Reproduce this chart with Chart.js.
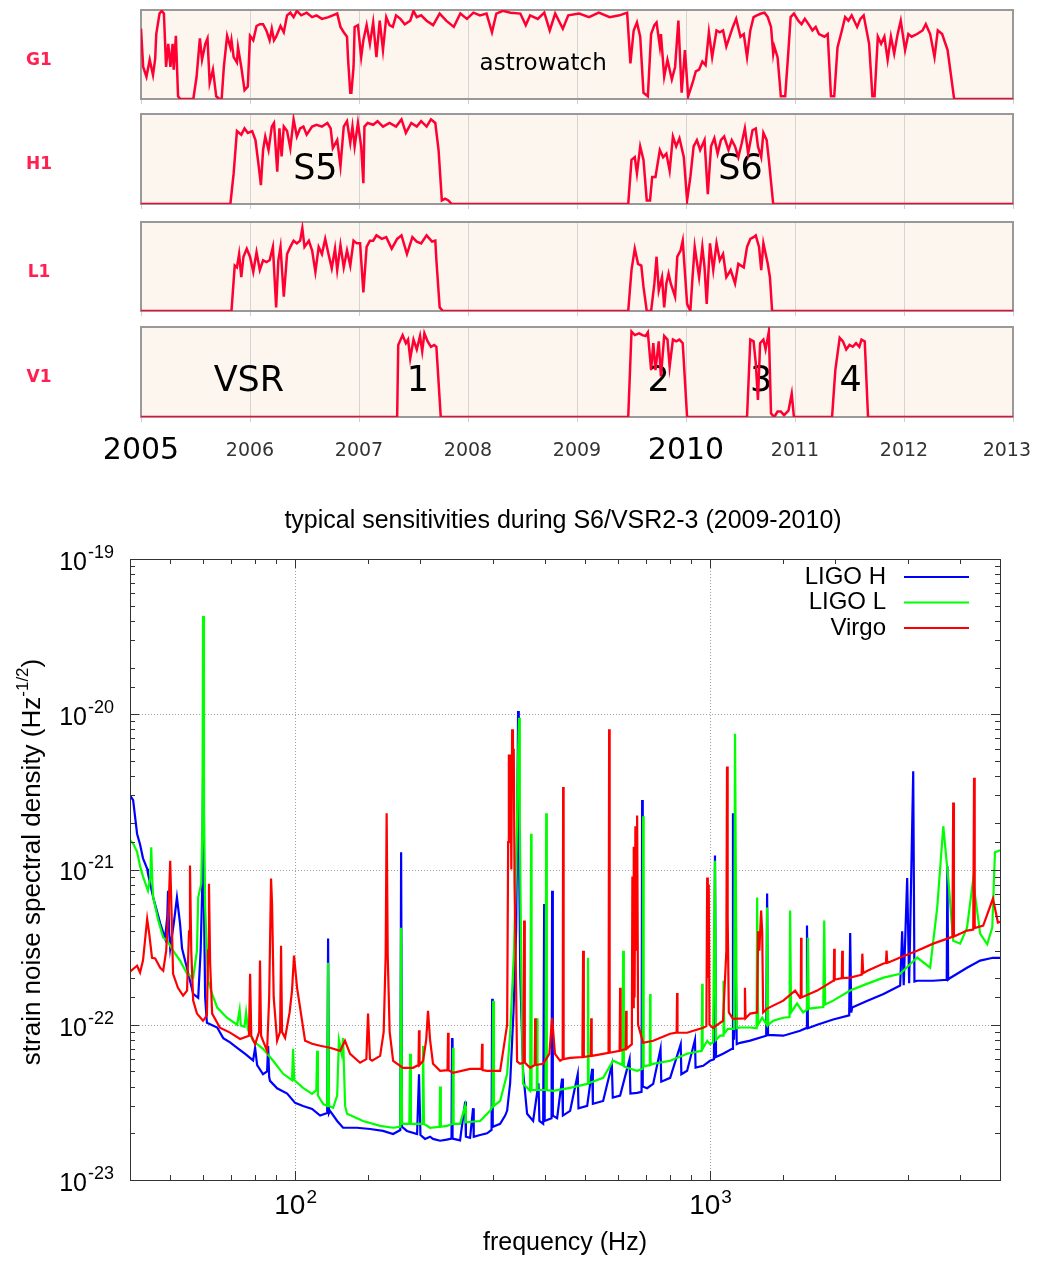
<!DOCTYPE html>
<html>
<head>
<meta charset="utf-8">
<script src="https://cdn.jsdelivr.net/npm/chart.js@4.4.0/dist/chart.umd.min.js"></script>
<style>
  body { margin: 0; background: #fff; width: 1037px; height: 1268px; position: relative; overflow: hidden; }
  canvas { position: absolute; left: 0; }
</style>
</head>
<body>
<canvas id="g1" width="1037" height="107" style="top:0px"></canvas>
<canvas id="h1" width="1037" height="108" style="top:104px"></canvas>
<canvas id="l1" width="1037" height="107" style="top:212px"></canvas>
<canvas id="v1" width="1037" height="160" style="top:317px"></canvas>
<canvas id="sens" width="1037" height="778" style="top:490px"></canvas>
<script>
// ---- top: duty factor per detector, [year, fraction] ----
const g1Duty = [
  [2005.00,0.79],[2005.02,0.36],[2005.05,0.25],[2005.08,0.44],[2005.11,0.27],[2005.13,0.45],[2005.14,0.73],
  [2005.17,0.96],[2005.19,0.99],[2005.21,0.96],[2005.23,0.36],[2005.25,0.62],[2005.27,0.36],[2005.29,0.62],
  [2005.30,0.33],[2005.32,0.71],[2005.34,0.03],[2005.36,0],[2005.48,0],[2005.51,0.25],[2005.54,0.68],
  [2005.56,0.44],[2005.59,0.62],[2005.61,0.68],[2005.63,0.18],[2005.66,0.33],[2005.69,0.03],[2005.72,0],
  [2005.74,0],[2005.76,0.36],[2005.79,0.71],[2005.82,0.58],[2005.83,0.66],[2005.85,0.47],[2005.88,0.41],
  [2005.89,0.58],[2005.92,0.36],[2005.95,0.10],[2005.98,0.14],[2006.00,0.71],[2006.03,0.66],[2006.06,0.82],
  [2006.09,0.84],[2006.12,0.84],[2006.15,0.77],[2006.18,0.66],[2006.20,0.79],[2006.22,0.66],[2006.24,0.70],
  [2006.28,0.82],[2006.31,0.75],[2006.34,0.94],[2006.37,0.97],[2006.40,0.92],[2006.43,0.99],[2006.47,0.94],
  [2006.52,0.97],[2006.57,0.92],[2006.61,0.94],[2006.66,0.90],[2006.72,0.92],[2006.76,0.94],[2006.80,0.96],
  [2006.83,0.81],[2006.86,0.75],[2006.89,0.70],[2006.90,0.44],[2006.92,0.07],[2006.93,0.07],[2006.95,0.36],
  [2006.96,0.81],[2006.99,0.83],[2007.02,0.47],[2007.04,0.66],[2007.07,0.83],[2007.10,0.62],[2007.13,0.86],
  [2007.16,0.47],[2007.19,0.88],[2007.22,0.55],[2007.25,0.92],[2007.28,0.83],[2007.31,0.81],[2007.34,0.94],
  [2007.38,0.90],[2007.42,0.84],[2007.47,0.88],[2007.50,0.99],[2007.53,0.92],[2007.57,0.94],[2007.62,0.88],
  [2007.68,0.83],[2007.74,0.96],[2007.80,0.88],[2007.87,0.81],[2007.93,0.96],[2007.99,0.90],[2008.05,0.97],
  [2008.11,0.94],[2008.17,0.96],[2008.22,0.75],[2008.26,0.96],[2008.32,0.99],[2008.39,0.97],[2008.48,0.96],
  [2008.53,0.83],[2008.57,0.94],[2008.64,0.90],[2008.70,0.97],[2008.75,0.77],[2008.80,0.96],[2008.87,0.79],
  [2008.92,0.94],[2009.02,0.96],[2009.11,0.92],[2009.20,0.97],[2009.30,0.92],[2009.39,0.94],[2009.46,0.97],
  [2009.49,0.40],[2009.52,0.77],[2009.55,0.86],[2009.58,0.70],[2009.61,0.07],[2009.65,0.03],[2009.68,0.73],
  [2009.71,0.83],[2009.73,0.86],[2009.76,0.59],[2009.77,0.73],[2009.80,0.25],[2009.83,0.44],[2009.87,0.22],
  [2009.90,0.36],[2009.93,0.88],[2009.96,0.07],[2009.99,0.55],[2010.02,0.03],[2010.06,0.18],[2010.09,0.31],
  [2010.12,0.33],[2010.15,0.42],[2010.18,0.38],[2010.21,0.75],[2010.24,0.47],[2010.28,0.77],[2010.31,0.75],
  [2010.34,0.77],[2010.37,0.59],[2010.40,0.70],[2010.43,0.81],[2010.46,0.90],[2010.50,0.70],[2010.53,0.73],
  [2010.56,0.47],[2010.59,0.77],[2010.62,0.92],[2010.65,0.94],[2010.69,0.96],[2010.72,0.97],[2010.75,0.92],
  [2010.78,0.81],[2010.80,0.51],[2010.81,0.59],[2010.84,0.47],[2010.86,0.18],[2010.87,0.03],[2010.91,0.03],
  [2010.94,0.55],[2010.96,0.92],[2010.99,0.96],[2011.03,0.88],[2011.06,0.84],[2011.09,0.90],[2011.13,0.83],
  [2011.16,0.77],[2011.19,0.81],[2011.22,0.73],[2011.27,0.70],[2011.30,0.73],[2011.33,0.03],[2011.36,0.03],
  [2011.39,0.58],[2011.43,0.77],[2011.46,0.92],[2011.49,0.88],[2011.52,0.94],[2011.57,0.81],[2011.60,0.90],
  [2011.63,0.94],[2011.68,0.62],[2011.71,0.03],[2011.73,0.03],[2011.76,0.70],[2011.79,0.62],[2011.82,0.70],
  [2011.85,0.44],[2011.88,0.70],[2011.91,0.51],[2011.94,0.72],[2011.97,0.88],[2012.01,0.55],[2012.04,0.73],
  [2012.07,0.70],[2012.12,0.73],[2012.17,0.77],[2012.20,0.84],[2012.24,0.73],[2012.28,0.47],[2012.31,0.77],
  [2012.35,0.73],[2012.40,0.55],[2012.46,0],[2013.00,0]
];
const h1Duty = [
  [2005.00,0],[2005.82,0],[2005.85,0.34],[2005.88,0.81],[2005.92,0.77],[2005.95,0.84],[2005.98,0.79],
  [2006.02,0.81],[2006.05,0.71],[2006.08,0.42],[2006.10,0.21],[2006.12,0.60],[2006.14,0.75],[2006.17,0.60],
  [2006.20,0.86],[2006.22,0.90],[2006.25,0.36],[2006.27,0.84],[2006.29,0.53],[2006.31,0.86],[2006.34,0.81],
  [2006.37,0.62],[2006.40,0.94],[2006.43,0.75],[2006.46,0.84],[2006.49,0.86],[2006.52,0.77],[2006.57,0.86],
  [2006.61,0.88],[2006.66,0.86],[2006.71,0.90],[2006.74,0.84],[2006.76,0.62],[2006.80,0.71],[2006.83,0.42],
  [2006.86,0.86],[2006.89,0.92],[2006.92,0.68],[2006.94,0.86],[2006.96,0.64],[2006.99,0.90],[2007.02,0.64],
  [2007.04,0.23],[2007.05,0.86],[2007.08,0.90],[2007.13,0.88],[2007.17,0.92],[2007.22,0.86],[2007.28,0.90],
  [2007.34,0.86],[2007.39,0.94],[2007.43,0.79],[2007.48,0.90],[2007.53,0.86],[2007.57,0.92],[2007.62,0.86],
  [2007.66,0.94],[2007.70,0.90],[2007.73,0.60],[2007.76,0.04],[2007.79,0.06],[2007.82,0.04],[2007.85,0],
  [2009.47,0],[2009.50,0.49],[2009.53,0.52],[2009.55,0.34],[2009.58,0.64],[2009.61,0.49],[2009.64,0.04],
  [2009.67,0.04],[2009.69,0.30],[2009.72,0.30],[2009.76,0.60],[2009.79,0.52],[2009.82,0.56],[2009.85,0.37],
  [2009.88,0.75],[2009.91,0.64],[2009.94,0.73],[2009.98,0.52],[2010.01,0.04],[2010.04,0.30],[2010.07,0.64],
  [2010.10,0.71],[2010.13,0.60],[2010.17,0.71],[2010.20,0.11],[2010.23,0.64],[2010.26,0.73],[2010.29,0.56],
  [2010.32,0.71],[2010.35,0.75],[2010.39,0.60],[2010.42,0.71],[2010.45,0.64],[2010.48,0.52],[2010.51,0.67],
  [2010.54,0.84],[2010.57,0.56],[2010.61,0.82],[2010.64,0.84],[2010.66,0.64],[2010.69,0.52],[2010.71,0.79],
  [2010.74,0.71],[2010.76,0.49],[2010.80,0],[2013.00,0]
];
const l1Duty = [
  [2005.00,0],[2005.83,0],[2005.86,0.51],[2005.88,0.49],[2005.90,0.64],[2005.92,0.38],[2005.94,0.61],
  [2005.97,0.70],[2006.00,0.61],[2006.03,0.44],[2006.06,0.66],[2006.09,0.46],[2006.12,0.57],[2006.15,0.55],
  [2006.18,0.57],[2006.21,0.72],[2006.24,0.04],[2006.26,0.57],[2006.28,0.72],[2006.31,0.16],[2006.34,0.64],
  [2006.37,0.72],[2006.40,0.79],[2006.43,0.76],[2006.46,0.79],[2006.48,0.93],[2006.50,0.72],[2006.54,0.79],
  [2006.57,0.68],[2006.60,0.44],[2006.63,0.72],[2006.66,0.64],[2006.69,0.81],[2006.72,0.64],[2006.75,0.48],
  [2006.78,0.70],[2006.80,0.46],[2006.83,0.74],[2006.86,0.49],[2006.89,0.68],[2006.92,0.51],[2006.95,0.79],
  [2006.98,0.76],[2007.01,0.76],[2007.04,0.21],[2007.07,0.72],[2007.10,0.79],[2007.13,0.79],[2007.16,0.85],
  [2007.21,0.81],[2007.25,0.83],[2007.30,0.70],[2007.35,0.81],[2007.39,0.85],[2007.44,0.64],[2007.49,0.83],
  [2007.53,0.78],[2007.57,0.76],[2007.62,0.85],[2007.67,0.78],[2007.70,0.79],[2007.71,0.57],[2007.74,0.04],
  [2007.77,0],[2009.47,0],[2009.50,0.46],[2009.53,0.70],[2009.56,0.53],[2009.59,0.51],[2009.61,0.27],
  [2009.64,0],[2009.68,0],[2009.71,0.31],[2009.73,0.61],[2009.75,0.23],[2009.78,0.38],[2009.80,0.04],
  [2009.82,0.31],[2009.84,0.42],[2009.86,0.31],[2009.90,0.16],[2009.92,0.61],[2009.95,0.68],[2009.97,0.79],
  [2010.01,0.08],[2010.04,0],[2010.06,0.38],[2010.08,0.72],[2010.12,0.38],[2010.15,0.72],[2010.17,0.49],
  [2010.19,0.08],[2010.22,0.76],[2010.25,0.46],[2010.28,0.76],[2010.31,0.57],[2010.34,0.64],[2010.37,0.38],
  [2010.41,0.46],[2010.45,0.31],[2010.48,0.53],[2010.53,0.49],[2010.56,0.72],[2010.59,0.81],[2010.62,0.83],
  [2010.64,0.85],[2010.67,0.72],[2010.69,0.46],[2010.71,0.76],[2010.75,0.53],[2010.77,0.38],[2010.79,0],
  [2013.00,0]
];
const v1Duty = [
  [2005.00,0],[2007.35,0],[2007.36,0.80],[2007.40,0.91],[2007.43,0.82],[2007.45,0.86],[2007.47,0.65],
  [2007.50,0.86],[2007.53,0.75],[2007.56,0.90],[2007.58,0.73],[2007.60,0.93],[2007.63,0.84],[2007.66,0.78],
  [2007.69,0.80],[2007.71,0.78],[2007.75,0],[2009.47,0],[2009.50,0.95],[2009.53,0.91],[2009.57,0.93],
  [2009.60,0.91],[2009.63,0.90],[2009.65,0.94],[2009.68,0.52],[2009.70,0.82],[2009.72,0.52],[2009.75,0.84],
  [2009.77,0.45],[2009.80,0.90],[2009.83,0.86],[2009.85,0.56],[2009.88,0.86],[2009.91,0.84],[2009.94,0.86],
  [2009.97,0.82],[2010.01,0],[2010.56,0],[2010.59,0.86],[2010.62,0.84],[2010.64,0.60],[2010.66,0.19],
  [2010.68,0.82],[2010.71,0.86],[2010.73,0.75],[2010.76,0.95],[2010.78,0.04],[2010.81,0],[2010.84,0.06],
  [2010.87,0.06],[2010.90,0.02],[2010.94,0.07],[2010.97,0.26],[2010.99,0],[2011.34,0],[2011.37,0.52],
  [2011.41,0.88],[2011.44,0.84],[2011.47,0.75],[2011.50,0.80],[2011.53,0.78],[2011.56,0.82],[2011.59,0.78],
  [2011.61,0.86],[2011.64,0.84],[2011.67,0],[2013.00,0]
];
const bigYears = [2005, 2010];

// ---- bottom: amplitude spectral density, [frequency Hz, strain/sqrt(Hz)] ----
const ligoH = [
  [40,3.0e-21],[40.7,2.8e-21],[41.6,1.7e-21],[42.3,1.45e-21],[43.0,1.18e-21],[44.0,1.01e-21],[44.2,9.4e-22],
  [45.5,6.6e-22],[47.3,4.5e-22],[48.6,3.6e-22],[49.2,5.0e-22],[49.4,7.3e-22],[49.7,4.0e-22],[50.0,3.1e-22],
  [51.0,4.5e-22],[51.9,6.6e-22],[52.8,4.5e-22],[53.4,3.1e-22],[54.9,2.3e-22],[56.8,1.58e-22],[58.4,1.49e-22],
  [59.2,3.0e-22],[59.7,7.3e-22],[60.0,3.9e-21],[60.3,6.0e-22],[60.7,1.5e-22],[61.3,1.03e-22],[64.9,9.6e-23],
  [67.1,8.2e-23],[69.7,7.7e-23],[72.5,7.1e-23],[75.8,6.5e-23],[79.2,5.9e-23],[80.1,7.1e-23],[81.0,5.5e-23],
  [83.7,4.8e-23],[85.6,5.0e-23],[86.1,7.3e-23],[86.6,4.6e-23],[87.0,4.35e-23],[90.5,3.9e-23],[95.7,3.6e-23],
  [100,3.14e-23],[104.5,3.0e-23],[109.9,2.87e-23],[114.9,2.6e-23],[119.5,2.7e-23],[120.1,3.6e-22],[120.7,2.7e-23],
  [121.4,2.79e-23],[126.3,2.4e-23],[130.5,2.17e-23],[141,2.17e-23],[151.6,2.13e-23],[162.9,2.07e-23],
  [172.3,1.98e-23],[179.3,2.1e-23],[180.1,1.29e-21],[181,2.2e-23],[186,2.07e-23],[196.8,1.98e-23],
  [198.9,4.8e-23],[200.5,1.95e-23],[205.7,1.84e-23],[211.5,1.9e-23],[215,1.84e-23],[223.6,1.79e-23],
  [232,1.82e-23],[238.2,1.85e-23],[238.9,8.2e-23],[239.6,1.85e-23],[249.8,1.8e-23],[257,3.2e-23],[258,1.9e-23],
  [264.1,1.87e-23],[268.5,2.9e-23],[269.5,1.9e-23],[279.2,1.95e-23],[290.2,2.0e-23],[297.5,2.1e-23],
  [298.5,1.47e-22],[299.5,2.2e-23],[312,2.3e-23],[320.8,2.6e-23],[324.4,2.8e-23],[329.8,4.2e-23],[336,1.2e-22],
  [341,4.0e-22],[343.5,3.0e-21],[344.7,1.05e-20],[346,2.0e-21],[349,2.0e-22],[354.4,5.0e-23],[362.4,2.67e-23],
  [374.7,2.4e-23],[386,4.2e-23],[388,2.4e-23],[396.2,2.3e-23],[397,2.3e-23],[398.4,6.0e-22],[399.5,2.4e-23],
  [415,2.5e-23],[416.4,7.3e-22],[418,2.6e-23],[428.1,2.5e-23],[440,4.5e-23],[442,2.6e-23],[460.1,2.79e-23],
  [480,4.8e-23],[482,2.9e-23],[505.8,3.0e-23],[520,5.2e-23],[522,3.1e-23],[552.6,3.23e-23],[580,5.5e-23],
  [583,3.4e-23],[607.3,3.5e-23],[640,6.0e-23],[643,3.6e-23],[667.4,3.64e-23],[684,3.7e-23],[686.2,2.8e-21],
  [688.5,4.0e-23],[705.5,3.9e-23],[729.5,4.16e-23],[760,7.0e-23],[763,4.3e-23],[801.6,4.55e-23],[850,7.5e-23],
  [853,4.8e-23],[880.7,5.05e-23],[920,8.0e-23],[923,5.3e-23],[962.9,5.44e-23],[1000,5.86e-23],[1022,6.0e-23],
  [1028,1.23e-21],[1034,6.2e-23],[1075,6.5e-23],[1130,7.0e-23],[1136,2.3e-21],[1142,8.0e-23],[1155,1.9e-22],
  [1160,7.5e-23],[1182,7.65e-23],[1250,7.9e-23],[1366,8.5e-23],[1373,7.0e-22],[1380,8.6e-23],[1502,8.5e-23],
  [1649,9.15e-23],[1704,9.5e-23],[1713,4.35e-22],[1722,9.5e-23],[1813,1.0e-22],[1981,1.08e-22],[2165,1.15e-22],
  [2177,3.9e-22],[2190,1.2e-22],[2201,1.29e-22],[2396,1.43e-22],[2620,1.58e-22],[2873,1.79e-22],[2905,4.0e-22],
  [2930,1.8e-22],[2987,8.8e-22],[3020,1.85e-22],[3089,4.3e-21],[3110,1.9e-22],[3157,1.92e-22],[3451,1.92e-22],
  [3720,1.95e-22],[3734,1.05e-21],[3750,1.95e-22],[3792,2.0e-22],[4164,2.33e-22],[4479,2.59e-22],
  [4808,2.7e-22],[5000,2.7e-22]
];
const ligoL = [
  [40,1.54e-21],[40.7,1.47e-21],[41.6,1.3e-21],[42.3,1.05e-21],[43.0,9.0e-22],[44.2,7.3e-22],[44.8,9.0e-22],
  [45.0,1.39e-21],[45.3,8.0e-22],[45.5,6.6e-22],[46.8,4.7e-22],[48.1,3.64e-22],[49.2,3.48e-22],[50.8,3.0e-22],
  [52.8,2.59e-22],[54.9,2.13e-22],[56.8,2.01e-22],[58.0,3.0e-22],[58.4,6.6e-22],[59.4,8.1e-22],[59.8,2.0e-21],
  [60.0,4.3e-20],[60.3,2.5e-21],[60.7,5.7e-22],[61.7,1.92e-22],[63.1,1.58e-22],[64.9,1.29e-22],[68.5,1.11e-22],
  [72.5,1.0e-22],[73.5,1.25e-22],[74.0,9.9e-23],[75.5,9.7e-23],[76.2,1.2e-22],[77.0,9.3e-23],[79.2,7.88e-23],
  [83.7,7.0e-23],[88.5,5.86e-23],[93.6,4.83e-23],[98.3,4.4e-23],[98.9,7.0e-23],[99.5,4.4e-23],[104.5,3.92e-23],
  [109.9,3.59e-23],[112.5,3.8e-23],[113,6.8e-23],[113.5,3.5e-23],[116.8,3.09e-23],[119.5,3.0e-23],
  [120.1,2.51e-22],[120.7,3.0e-23],[123.5,2.92e-23],[126.3,3.5e-23],[127.5,8.0e-23],[129.5,6.5e-23],
  [130.5,8.2e-23],[132,3.0e-23],[133.4,2.67e-23],[145.8,2.4e-23],[160.3,2.23e-23],[172.3,2.17e-23],
  [179.3,2.2e-23],[180.1,4.22e-22],[181,2.3e-23],[188.5,2.3e-23],[189.3,6.5e-23],[190.2,2.3e-23],
  [196.8,2.3e-23],[203,2.3e-23],[203.5,7.3e-23],[204.5,2.3e-23],[211.5,2.17e-23],[223,2.2e-23],[223.6,4.0e-23],
  [224.5,2.2e-23],[232.4,2.23e-23],[239.5,2.3e-23],[240.3,7.1e-23],[241,2.3e-23],[249.8,2.3e-23],[257,3.0e-23],
  [258,2.35e-23],[279.2,2.4e-23],[295.1,2.79e-23],[299,3.0e-23],[300.2,1.43e-22],[301.5,3.0e-23],[312,3.23e-23],
  [324.4,4.83e-23],[329.8,8.75e-23],[337,3.0e-22],[342,1.5e-21],[345,6.0e-21],[346.7,9.5e-21],[348,2.0e-21],
  [351,2.0e-22],[354.4,4.16e-23],[368.5,3.75e-23],[369.8,3.75e-23],[370.6,1.7e-21],[371.5,3.8e-23],
  [382.3,3.8e-23],[383.2,1.1e-22],[384,3.8e-23],[401.5,3.8e-23],[402.9,2.3e-21],[404.3,3.8e-23],
  [418.7,3.75e-23],[460.1,3.92e-23],[505.8,4.16e-23],[508,2.7e-22],[510,4.2e-23],[552.6,4.55e-23],
  [584.1,5.86e-23],[615,5.5e-23],[617.6,3.0e-22],[620,5.4e-23],[631.3,5.28e-23],[667.4,5.05e-23],[688,5.2e-23],
  [690,2.2e-21],[692,5.4e-23],[716,5.5e-23],[717.4,1.58e-22],[719,5.5e-23],[729.5,5.6e-23],[801.6,5.86e-23],
  [880.7,6.5e-23],[955,6.8e-23],[957.6,1.84e-22],[960,7.0e-23],[984.5,7.88e-23],[1000,7.5e-23],[1017,7.7e-23],
  [1028,1.14e-21],[1034,8.0e-23],[1058,8.5e-23],[1075,8.5e-23],[1078,1.92e-22],[1083,8.8e-23],[1105,9.4e-23],
  [1143,9.4e-23],[1149,7.5e-21],[1160,9.5e-23],[1182,9.6e-23],[1250,9.6e-23],[1295,9.5e-23],[1299,6.6e-22],
  [1306,1.0e-22],[1336,1.11e-22],[1370,1.0e-22],[1373,5.7e-22],[1381,1.0e-22],[1420,1.06e-22],[1502,1.11e-22],
  [1555,1.12e-22],[1560,5.44e-22],[1568,1.2e-22],[1621,1.37e-22],[1676,1.2e-22],[1713,1.25e-22],[1722,3.64e-22],
  [1730,1.27e-22],[1813,1.29e-22],[1875,1.3e-22],[1885,4.69e-22],[1895,1.35e-22],[1981,1.43e-22],[2177,1.66e-22],
  [2396,1.84e-22],[2620,2.01e-22],[2873,2.13e-22],[3157,2.71e-22],[3393,2.33e-22],[3529,5.69e-22],
  [3650,1.9e-21],[3755,8.5e-22],[3856,3.48e-22],[4008,3.33e-22],[4164,4.22e-22],[4305,8.5e-22],[4479,3.86e-22],
  [4657,3.3e-22],[4790,4.22e-22],[4862,1.29e-21],[5000,1.33e-21]
];
const virgo = [
  [40,2.2e-22],[41.6,2.4e-22],[42.3,2.17e-22],[43.0,2.6e-22],[44.0,4.8e-22],[44.5,3.86e-22],[45.2,2.7e-22],
  [46.0,2.67e-22],[47.3,2.33e-22],[48.1,2.23e-22],[48.9,3.0e-22],[49.6,6.0e-22],[50.0,1.14e-21],[50.4,5.0e-22],
  [50.8,2.13e-22],[52.2,1.73e-22],[53.7,1.54e-22],[54.9,1.66e-22],[55.5,4.0e-22],[55.8,1.06e-21],[56.2,3.0e-22],
  [56.8,1.43e-22],[58.0,1.18e-22],[60.0,1.06e-22],[61.3,1.15e-22],[61.7,3.0e-22],[62.0,8.1e-22],[62.4,2.5e-22],
  [63.1,1.18e-22],[65.9,9.56e-23],[69.7,8.9e-23],[73.7,8.1e-23],[77.4,8.5e-23],[77.9,2.13e-22],[78.4,8.5e-23],
  [80.1,7.5e-23],[81.9,9.0e-23],[82.3,2.59e-22],[82.8,8.5e-23],[83.7,7.88e-23],[85.6,6.79e-23],[86.6,1.5e-22],
  [87.5,8.75e-22],[88.0,6.0e-22],[88.8,1.5e-22],[90.5,7.88e-23],[92.0,9.0e-23],[92.5,3.23e-22],[93.0,9.0e-23],
  [94.6,8.24e-23],[97,1.2e-22],[98.3,1.66e-22],[99.4,2.79e-22],[101.1,1.73e-22],[102.8,1.29e-22],
  [105.7,7.88e-23],[109.9,7.54e-23],[114.9,7.32e-23],[121.4,7.11e-23],[128.4,6.79e-23],[131.9,7.88e-23],
  [135.7,6.5e-23],[143.4,5.69e-23],[148.5,6.0e-23],[149.9,1.18e-22],[151.5,6.0e-23],[153.3,5.86e-23],
  [160.3,6.3e-23],[163.5,9.0e-23],[165.3,2.8e-22],[166.2,2.3e-21],[167.2,2.8e-22],[169,9.0e-23],[172.3,5.86e-23],
  [182,5.28e-23],[192.4,5.28e-23],[198.3,5.5e-23],[198.9,9.2e-23],[199.5,5.5e-23],[203.5,5.86e-23],[207,8.0e-23],
  [209.1,1.23e-22],[211.5,8.0e-23],[215,5.6e-23],[223.6,5.05e-23],[233,5.1e-23],[233.7,8.88e-23],[234.4,5.1e-23],
  [240.3,4.9e-23],[264.1,5.2e-23],[281.5,5.2e-23],[282.3,7.54e-23],[283,5.1e-23],[290.2,5.05e-23],[312,5.05e-23],
  [320.8,8.24e-23],[324.4,1.0e-22],[326.2,1.5e-21],[327.5,5.5e-21],[329,2.0e-21],[330.5,5.5e-21],[332,1.0e-21],
  [333.5,8.0e-21],[335,4.0e-21],[336.5,6.0e-21],[338,8.0e-22],[340,3.0e-22],[342.8,5.8e-23],[348.6,5.6e-23],
  [355,5.7e-23],[356.4,4.69e-22],[357.8,5.7e-23],[368.5,5.28e-23],[378,5.5e-23],[379,1.1e-22],[380,5.5e-23],
  [396.2,5.6e-23],[410,6.5e-23],[416.4,1.11e-22],[423,6.5e-23],[435.3,5.86e-23],[441.5,6.0e-23],[442.6,3.4e-21],
  [443.8,6.0e-23],[460.1,6.12e-23],[492.5,6.2e-23],[494.5,3.0e-22],[496.5,6.2e-23],[516,6.3e-23],[517.3,1.1e-22],
  [518.6,6.3e-23],[552.6,6.5e-23],[569.5,6.6e-23],[571.3,8.0e-21],[573,6.6e-23],[605.5,6.8e-23],[607.3,1.73e-22],
  [609,6.8e-23],[626.5,7.0e-23],[628,1.23e-22],[629.5,7.0e-23],[648,7.5e-23],[650,9.0e-22],[652.5,1.3e-22],
  [655,1.4e-21],[658,1.5e-22],[661,1.9e-21],[664,3.0e-22],[667.4,2.23e-21],[671,1.0e-22],[690,7.65e-23],
  [729.5,7.88e-23],[801.6,8.75e-23],[831,8.9e-23],[833,1.6e-22],[835,8.9e-23],[880.7,8.88e-23],[962.9,9.56e-23],
  [980,9.8e-23],[984.5,8.88e-22],[988,2.0e-22],[993,8.0e-22],[997,1.0e-22],[1017,9.56e-23],[1058,1.03e-22],
  [1075,1.06e-22],[1095,3.0e-22],[1099,4.6e-21],[1103,5.0e-22],[1110,1.2e-22],[1136,1.09e-22],[1210,1.1e-22],
  [1214,1.73e-22],[1218,1.1e-22],[1250,1.18e-22],[1299,1.2e-22],[1306,4.0e-22],[1315,3.0e-22],[1328,5.44e-22],
  [1336,4.0e-22],[1343,1.2e-22],[1373,1.27e-22],[1502,1.43e-22],[1604,1.66e-22],[1649,1.49e-22],[1655,1.5e-22],
  [1658,3.64e-22],[1662,1.5e-22],[1813,1.66e-22],[1981,1.92e-22],[1988,1.95e-22],[1992,3.09e-22],[1998,1.95e-22],
  [2078,2.0e-22],[2083,3.0e-22],[2090,2.0e-22],[2177,2.01e-22],[2320,2.1e-22],[2329,2.87e-22],[2340,2.15e-22],
  [2396,2.23e-22],[2620,2.48e-22],[2655,2.5e-22],[2664,3.0e-22],[2675,2.5e-22],[2873,2.71e-22],[3157,3.0e-22],
  [3451,3.33e-22],[3792,3.64e-22],[3840,3.7e-22],[3856,2.7e-21],[3872,3.7e-22],[4164,4.04e-22],[4310,4.1e-22],
  [4329,3.9e-21],[4345,4.2e-22],[4555,4.35e-22],[4808,6.5e-22],[4942,4.55e-22],[5000,4.6e-22]
];

const toXY = pts => pts.map(([x, y]) => ({ x, y }));

// ---------- top panels ----------
const panelPlugin = {
  id: 'panel',
  beforeDraw(chart) {
    const { ctx, chartArea: a } = chart;
    ctx.save();
    ctx.fillStyle = '#fdf6ee';
    ctx.fillRect(a.left, a.top, a.right - a.left, a.bottom - a.top);
    ctx.restore();
  },
  beforeDatasetsDraw(chart, args, opts) {
    const { ctx, chartArea: a, scales: { x, y } } = chart;
    ctx.save();
    ctx.strokeStyle = '#999';
    ctx.lineWidth = 2;
    ctx.strokeRect(a.left, a.top, a.right - a.left, a.bottom - a.top);
    ctx.fillStyle = '#ff2052';
    ctx.font = 'bold 17px "DejaVu Sans"';
    ctx.textAlign = 'center';
    ctx.textBaseline = 'middle';
    ctx.fillText(opts.name, 39, (a.top + a.bottom) / 2 + 6);
    ctx.fillStyle = '#000';
    opts.notes.forEach(n => {
      ctx.font = n.size + 'px "DejaVu Sans"';
      ctx.fillText(n.text, x.getPixelForValue(n.year), y.getPixelForValue(n.level));
    });
    ctx.restore();
  },
  afterDraw(chart, args, opts) {
    if (!opts.years) return;
    const { ctx, chartArea: a, scales: { x } } = chart;
    ctx.save();
    ctx.textAlign = 'center';
    ctx.textBaseline = 'middle';
    x.ticks.forEach(t => {
      const big = bigYears.includes(t.value);
      ctx.font = (big ? 30 : 19) + 'px "DejaVu Sans"';
      ctx.fillStyle = big ? '#000' : '#333';
      const label = String(t.value);
      const w = ctx.measureText(label).width;
      const px = Math.min(x.getPixelForValue(t.value), chart.width - w / 2 - 6);
      ctx.fillText(label, px, a.bottom + 34);
    });
    ctx.restore();
  }
};

function makePanel(id, name, duty, notes, showYears, axisHeight) {
  return new Chart(document.getElementById(id), {
    type: 'line',
    data: {
      datasets: [{
        data: toXY(duty),
        borderColor: '#ff0033',
        borderWidth: 2.5,
        pointRadius: 0,
        tension: 0
      }]
    },
    options: {
      responsive: false,
      animation: false,
      events: [],
      layout: { padding: { left: 141, right: 24, top: 10, bottom: 0 } },
      scales: {
        x: {
          type: 'linear',
          min: 2005,
          max: 2013,
          afterFit: s => { s.height = axisHeight; s.paddingLeft = 0; s.paddingRight = 0; },
          grid: { color: '#d4d4d4', lineWidth: 1, tickLength: 5, tickColor: '#cfcfcf' },
          border: { display: false },
          ticks: { stepSize: 1, display: false, autoSkip: false }
        },
        y: { min: 0, max: 1, display: false }
      },
      plugins: {
        legend: { display: false },
        tooltip: { enabled: false },
        panel: { name, notes, years: showYears }
      }
    },
    plugins: [panelPlugin]
  });
}

makePanel('g1', 'G1', g1Duty, [{ text: 'astrowatch', year: 2008.69, level: 0.39, size: 23 }], false, 8);
makePanel('h1', 'H1', h1Duty, [
  { text: 'S5', year: 2006.60, level: 0.38, size: 35 },
  { text: 'S6', year: 2010.50, level: 0.38, size: 35 }
], false, 8);
makePanel('l1', 'L1', l1Duty, [], false, 8);
makePanel('v1', 'V1', v1Duty, [
  { text: 'VSR', year: 2005.99, level: 0.39, size: 35 },
  { text: '1', year: 2007.54, level: 0.39, size: 35 },
  { text: '2', year: 2009.75, level: 0.39, size: 35 },
  { text: '3', year: 2010.69, level: 0.39, size: 35 },
  { text: '4', year: 2011.51, level: 0.39, size: 35 }
], true, 60);

// ---------- sensitivity curves ----------
const isDecade = v => { const l = Math.log10(v); return Math.abs(l - Math.round(l)) < 1e-6; };
const FONT = '"Liberation Sans", Arial, sans-serif';

// "10" with a raised exponent; align: 'right' or 'center'
function powText(ctx, exp, x, y, big, small, rise, align) {
  ctx.font = big + 'px ' + FONT;
  const wb = ctx.measureText('10').width;
  ctx.font = small + 'px ' + FONT;
  const ws = ctx.measureText(exp).width;
  const x0 = align === 'right' ? x - wb - ws : x - (wb + ws) / 2;
  ctx.textAlign = 'left';
  ctx.textBaseline = 'middle';
  ctx.font = big + 'px ' + FONT;
  ctx.fillText('10', x0, y);
  ctx.font = small + 'px ' + FONT;
  ctx.fillText(exp, x0 + wb + 1, y - rise);
}

const framePlugin = {
  id: 'frame',
  beforeDatasetsDraw(chart) {
    const { ctx, chartArea: a, scales: { x, y } } = chart;
    ctx.save();
    ctx.strokeStyle = '#a0a0a0';
    ctx.lineWidth = 1;
    ctx.setLineDash([1, 2]);
    x.ticks.filter(t => isDecade(t.value)).forEach(t => {
      const px = Math.round(x.getPixelForValue(t.value)) + 0.5;
      ctx.beginPath(); ctx.moveTo(px, a.top); ctx.lineTo(px, a.bottom); ctx.stroke();
    });
    y.ticks.filter(t => isDecade(t.value)).forEach(t => {
      const py = Math.round(y.getPixelForValue(t.value)) + 0.5;
      ctx.beginPath(); ctx.moveTo(a.left, py); ctx.lineTo(a.right, py); ctx.stroke();
    });
    ctx.restore();
  },
  afterDatasetsDraw(chart) {
    const { ctx, chartArea: a, scales: { x, y } } = chart;
    ctx.save();
    ctx.strokeStyle = '#333';
    ctx.lineWidth = 1;
    x.ticks.forEach(t => {
      const px = Math.round(x.getPixelForValue(t.value)) + 0.5;
      const len = isDecade(t.value) ? 9 : 5;
      ctx.beginPath();
      ctx.moveTo(px, a.bottom); ctx.lineTo(px, a.bottom - len);
      ctx.moveTo(px, a.top); ctx.lineTo(px, a.top + len);
      ctx.stroke();
    });
    y.ticks.forEach(t => {
      const py = Math.round(y.getPixelForValue(t.value)) + 0.5;
      const len = isDecade(t.value) ? 9 : 5;
      ctx.beginPath();
      ctx.moveTo(a.left, py); ctx.lineTo(a.left + len, py);
      ctx.moveTo(a.right, py); ctx.lineTo(a.right - len, py);
      ctx.stroke();
    });
    ctx.strokeRect(Math.round(a.left) + 0.5, Math.round(a.top) + 0.5,
      Math.round(a.right - a.left), Math.round(a.bottom - a.top));
    ctx.restore();
  },
  afterDraw(chart) {
    const { ctx, chartArea: a, scales: { x, y } } = chart;
    ctx.save();
    ctx.fillStyle = '#000';

    // tick labels
    y.ticks.filter(t => isDecade(t.value)).forEach(t => {
      const exp = String(Math.round(Math.log10(t.value)));
      powText(ctx, exp, a.left - 17, y.getPixelForValue(t.value) + 4, 25, 18, 10, 'right');
    });
    x.ticks.filter(t => isDecade(t.value)).forEach(t => {
      const exp = String(Math.round(Math.log10(t.value)));
      powText(ctx, exp, x.getPixelForValue(t.value), a.bottom + 26, 28, 19, 8, 'center');
    });

    ctx.textAlign = 'center';
    ctx.textBaseline = 'middle';
    ctx.font = '25px ' + FONT;
    ctx.fillText('typical sensitivities during S6/VSR2-3 (2009-2010)', 563, 31);
    ctx.fillText('frequency (Hz)', (a.left + a.right) / 2, 753);

    // y title with superscript
    ctx.translate(33, 372);
    ctx.rotate(-Math.PI / 2);
    const main = 'strain noise spectral density (Hz';
    const sup = '-1/2';
    ctx.font = '26px ' + FONT;
    const w1 = ctx.measureText(main).width;
    const w3 = ctx.measureText(')').width;
    ctx.font = '17px ' + FONT;
    const w2 = ctx.measureText(sup).width;
    let cx = -(w1 + w2 + w3) / 2;
    ctx.textAlign = 'left';
    ctx.font = '26px ' + FONT;
    ctx.fillText(main, cx, 0); cx += w1;
    ctx.font = '17px ' + FONT;
    ctx.fillText(sup, cx, -10); cx += w2;
    ctx.font = '26px ' + FONT;
    ctx.fillText(')', cx, 0);
    ctx.restore();

    // legend inside top right
    ctx.save();
    ctx.font = '24px ' + FONT;
    ctx.textAlign = 'right';
    ctx.textBaseline = 'middle';
    chart.data.datasets.forEach((ds, i) => {
      const ly = a.top + 18 + i * 25.5;
      ctx.fillStyle = '#000';
      ctx.fillText(ds.label, a.right - 114, ly);
      ctx.strokeStyle = ds.borderColor;
      ctx.lineWidth = 2;
      ctx.beginPath(); ctx.moveTo(a.right - 96, ly); ctx.lineTo(a.right - 31, ly); ctx.stroke();
    });
    ctx.restore();
  }
};

new Chart(document.getElementById('sens'), {
  type: 'line',
  data: {
    datasets: [
      { label: 'LIGO H', data: toXY(ligoH), borderColor: '#0000ff', order: 2 },
      { label: 'LIGO L', data: toXY(ligoL), borderColor: '#00ff00', order: 1 },
      { label: 'Virgo', data: toXY(virgo), borderColor: '#ff0000', order: 0 }
    ]
  },
  options: {
    responsive: false,
    animation: false,
    events: [],
    elements: { line: { borderWidth: 2.2, tension: 0 }, point: { radius: 0 } },
    layout: { padding: { left: 0, right: 37, top: 69, bottom: 0 } },
    scales: {
      x: {
        type: 'logarithmic',
        min: 40,
        max: 5000,
        afterFit: s => { s.height = 88; s.paddingLeft = 0; s.paddingRight = 0; },
        grid: { display: false },
        border: { display: false },
        ticks: { display: false, autoSkip: false }
      },
      y: {
        type: 'logarithmic',
        min: 1e-23,
        max: 1e-19,
        afterFit: s => { s.width = 130; s.paddingTop = 0; s.paddingBottom = 0; },
        grid: { display: false },
        border: { display: false },
        ticks: { display: false, autoSkip: false }
      }
    },
    plugins: {
      legend: { display: false },
      tooltip: { enabled: false }
    }
  },
  plugins: [framePlugin]
});
</script>
</body>
</html>
